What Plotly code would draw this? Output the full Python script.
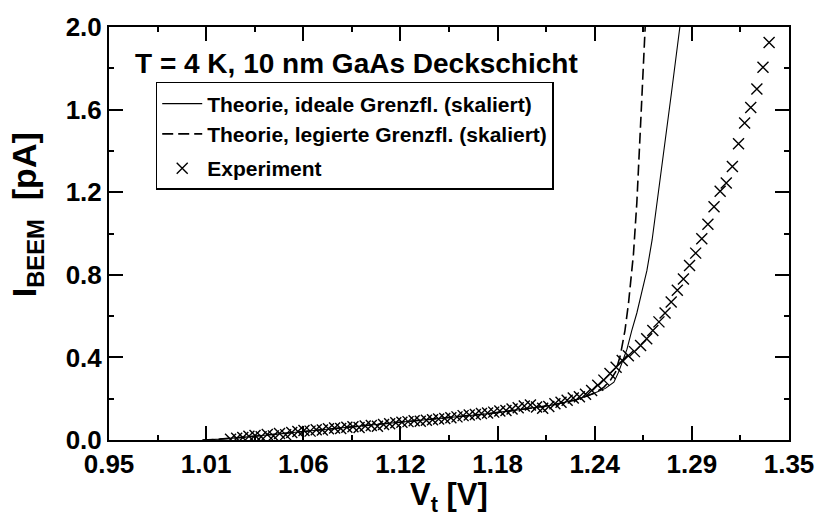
import plotly.graph_objects as go

# Experimental BEEM spectrum (tip voltage in V, collector current in pA)
v_exp = [1.0215, 1.0251, 1.0287, 1.0323, 1.0359, 1.0395, 1.0431, 1.0467, 1.0503, 1.0539,
         1.0575, 1.0611, 1.0647, 1.0683, 1.0719, 1.0755, 1.0791, 1.0827, 1.0863, 1.0899,
         1.0935, 1.0971, 1.1007, 1.1043, 1.1079, 1.1115, 1.1151, 1.1187, 1.1223, 1.1259,
         1.1295, 1.1331, 1.1367, 1.1403, 1.1439, 1.1475, 1.1511, 1.1547, 1.1583, 1.1619,
         1.1655, 1.1691, 1.1727, 1.1763, 1.1799, 1.1835, 1.1871, 1.1907, 1.1943, 1.1979,
         1.2015, 1.2051, 1.2087, 1.2123, 1.2159, 1.2195, 1.2231, 1.2267, 1.2303, 1.2339,
         1.2375, 1.2411, 1.2447, 1.2483, 1.2519, 1.2555, 1.2591, 1.2627, 1.2663, 1.2699,
         1.2735, 1.2771, 1.2807, 1.2843, 1.2879, 1.2915, 1.2951, 1.2987, 1.3023, 1.3059,
         1.3095, 1.3131, 1.3167, 1.3203, 1.3239, 1.3275, 1.3311, 1.3347, 1.3383]
i_exp = [0.004, 0.008, 0.012, 0.018, 0.022, 0.016, 0.027, 0.020, 0.031, 0.026,
         0.036, 0.041, 0.046, 0.043, 0.050, 0.048, 0.055, 0.058, 0.056, 0.062,
         0.064, 0.061, 0.068, 0.070, 0.067, 0.075, 0.079, 0.083, 0.086, 0.089,
         0.093, 0.091, 0.096, 0.098, 0.102, 0.104, 0.108, 0.112, 0.118, 0.121,
         0.124, 0.128, 0.131, 0.135, 0.140, 0.143, 0.150, 0.156, 0.165, 0.170,
         0.160, 0.154, 0.162, 0.175, 0.183, 0.192, 0.203, 0.210, 0.221, 0.240,
         0.265, 0.290, 0.322, 0.352, 0.385, 0.408, 0.428, 0.458, 0.490, 0.530,
         0.572, 0.615, 0.668, 0.725, 0.780, 0.845, 0.905, 0.975, 1.045, 1.130,
         1.205, 1.245, 1.325, 1.435, 1.535, 1.610, 1.700, 1.805, 1.925]

# Theory, ideal interface (scaled)
v_ideal = [1.005, 1.015, 1.03, 1.05, 1.07, 1.09, 1.11, 1.13, 1.15, 1.17, 1.19, 1.21,
           1.225, 1.235, 1.242, 1.247, 1.2498, 1.2525, 1.2547, 1.2575, 1.2605, 1.2635,
           1.2664, 1.2695, 1.2722, 1.2765, 1.281, 1.2858]
i_ideal = [0.0, 0.004, 0.014, 0.030, 0.047, 0.062, 0.078, 0.093, 0.108, 0.125, 0.145, 0.168,
           0.195, 0.225, 0.250, 0.280, 0.330, 0.390, 0.440, 0.530, 0.615, 0.720,
           0.820, 0.970, 1.136, 1.400, 1.690, 2.0]

# Theory, alloyed interface (scaled)
v_alloy = [1.005, 1.015, 1.03, 1.05, 1.07, 1.09, 1.11, 1.13, 1.15, 1.17, 1.19, 1.21,
           1.225, 1.235, 1.241, 1.245, 1.248, 1.2508, 1.2535, 1.2556, 1.2585, 1.2605,
           1.263, 1.2654]
i_alloy = [0.0, 0.004, 0.014, 0.030, 0.047, 0.062, 0.078, 0.093, 0.108, 0.125, 0.145, 0.168,
           0.195, 0.225, 0.255, 0.290, 0.330, 0.410, 0.530, 0.663, 0.900, 1.150,
           1.580, 2.0]

# Axis ranges and tick labels (x: 7 equal intervals labelled with 2 decimals)
x_tick_labels = ["0.95", "1.01", "1.06", "1.12", "1.18", "1.24", "1.29", "1.35"]
y_tick_labels = ["0.0", "0.4", "0.8", "1.2", "1.6", "2.0"]
x_min, x_max = 0.95, 1.35
y_min, y_max = 0.0, 2.0
x_step = (x_max - x_min) / (len(x_tick_labels) - 1)
y_step = (y_max - y_min) / (len(y_tick_labels) - 1)

FONT = "Liberation Sans, Arial, sans-serif"

fig = go.Figure()
fig.add_trace(go.Scatter(
    x=v_ideal, y=i_ideal, mode="lines",
    name="<b>Theorie, ideale Grenzfl. (skaliert)</b>",
    line=dict(color="black", width=1.1),
    legendgroup="theory",
))
fig.add_trace(go.Scatter(
    x=v_alloy, y=i_alloy, mode="lines",
    name="<b>Theorie, legierte Grenzfl. (skaliert)</b>",
    line=dict(color="black", width=1.6, dash="11px,5px"),
    legendgroup="theory",
))
fig.add_trace(go.Scatter(
    x=v_exp, y=i_exp, mode="markers",
    name="<b>Experiment</b>",
    marker=dict(symbol="x-thin", size=11, line=dict(color="black", width=1.4)),
    legendgroup="exp",
))

# Transparent copies on the helper axes so that each frame side gets its ticks
for k in (2, 3, 4):
    fig.add_trace(go.Scatter(
        x=v_exp, y=i_exp, mode="markers", xaxis="x%d" % k, yaxis="y%d" % k,
        marker=dict(opacity=0), showlegend=False, hoverinfo="skip",
    ))

tick_font = dict(family=FONT, size=26, color="black", weight="bold")


def tick_axis(rng, step, start, length, width, side, overlay=None, anchor=None,
              labels=False, line=False, fmt=None):
    ax = dict(
        range=rng, tickmode="linear", tick0=start, dtick=step,
        ticks="inside", ticklen=length, tickwidth=width, tickcolor="black",
        showticklabels=labels, showline=line, linecolor="black", linewidth=2,
        showgrid=False, zeroline=False, side=side,
    )
    if overlay:
        ax["overlaying"] = overlay
    if anchor:
        ax["anchor"] = anchor
    if labels:
        ax["tickfont"] = tick_font
        ax["tickformat"] = fmt
    return ax


fig.update_layout(
    # bottom / left: labelled major ticks and the frame lines
    xaxis=tick_axis([x_min, x_max], x_step, x_min, 14, 2, "bottom",
                    labels=True, line=True, fmt=".2f"),
    yaxis=tick_axis([y_min, y_max], y_step, y_min, 14, 2, "left",
                    labels=True, line=True, fmt=".1f"),
    # top / right: major ticks and the frame lines
    xaxis2=tick_axis([x_min, x_max], x_step, x_min, 14, 2, "top",
                     overlay="x", anchor="y2", line=True),
    yaxis2=tick_axis([y_min, y_max], y_step, y_min, 14, 2, "right",
                     overlay="y", anchor="x2", line=True),
    # bottom / left minor ticks
    xaxis3=tick_axis([x_min, x_max], x_step, x_min + x_step / 2, 5, 1.5, "bottom",
                     overlay="x", anchor="y3"),
    yaxis3=tick_axis([y_min, y_max], y_step, y_min + y_step / 2, 5, 1.5, "left",
                     overlay="y", anchor="x3"),
    # top / right minor ticks
    xaxis4=tick_axis([x_min, x_max], x_step, x_min + x_step / 2, 5, 1.5, "top",
                     overlay="x", anchor="y4"),
    yaxis4=tick_axis([y_min, y_max], y_step, y_min + y_step / 2, 5, 1.5, "right",
                     overlay="y", anchor="x4"),
)

fig.update_layout(
    width=826, height=525,
    margin=dict(l=109, r=33, t=17, b=85),
    paper_bgcolor="white", plot_bgcolor="white",
    font=dict(family=FONT, color="black"),
    showlegend=True,
    hovermode=False,
    legend=dict(
        x=0.0687, y=0.867, xanchor="left", yanchor="top",
        bgcolor="white", bordercolor="black", borderwidth=1.5,
        font=dict(family=FONT, size=21, color="black"),
        tracegroupgap=4, itemwidth=40,
    ),
    annotations=[
        dict(text="<b>T = 4 K, 10 nm GaAs Deckschicht</b>", xref="paper", yref="paper",
             x=0.036, y=0.911, xanchor="left", yanchor="middle", showarrow=False,
             font=dict(family=FONT, size=28, color="black")),
        dict(text="<b>V<sub>t</sub> [V]</b>", xref="paper", yref="paper",
             x=0.5, y=-0.138, xanchor="center", yanchor="middle", showarrow=False,
             font=dict(family=FONT, size=31, color="black")),
        dict(text="<b>I<sub>BEEM</sub> &nbsp;[pA]</b>", xref="paper", yref="paper",
             x=-0.12, y=0.545, xanchor="center", yanchor="middle", showarrow=False,
             textangle=-90, font=dict(family=FONT, size=34, color="black")),
    ],
)

fig.write_html("out.html")
